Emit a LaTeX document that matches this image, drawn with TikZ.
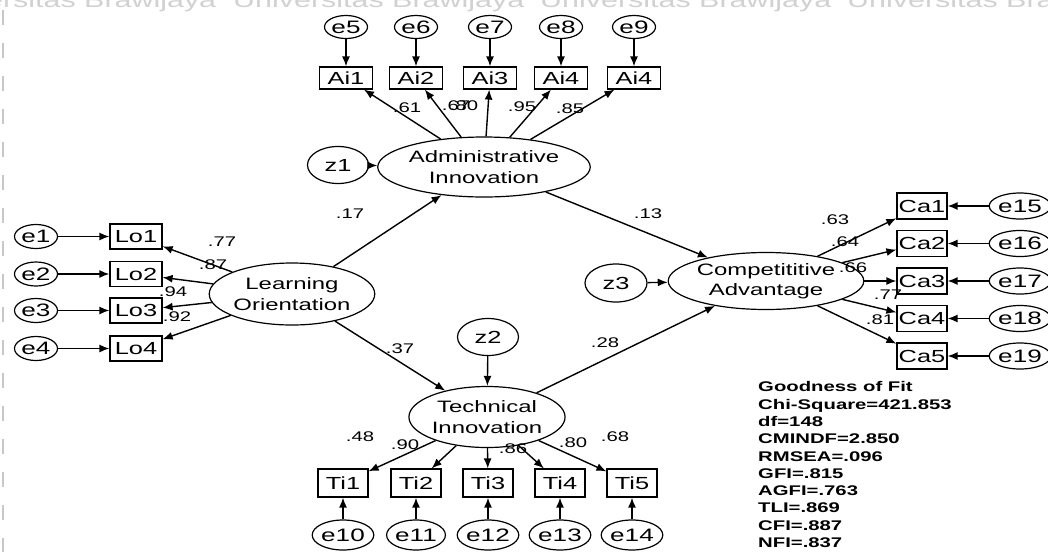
\documentclass[tikz,border=0pt]{standalone}
\usepackage{fontspec}
\setmainfont[FakeStretch=1.45]{Liberation Sans}
\usetikzlibrary{arrows.meta,shapes.geometric}

\begin{document}
\begin{tikzpicture}[x=1pt,y=-1pt,
  lat/.style={draw,ellipse,line width=1.2pt,inner sep=0pt,align=center,
    font=\fontsize{16.5}{20.5}\selectfont},
  err/.style={draw,ellipse,line width=1.2pt,inner sep=0pt,
    font=\fontsize{18}{18}\selectfont},
  dist/.style={draw,ellipse,line width=1.2pt,inner sep=0pt,
    minimum width=61pt,minimum height=37pt,font=\fontsize{17.5}{17.5}\selectfont},
  obs/.style={draw,rectangle,line width=1.2pt,inner sep=0pt,
    font=\fontsize{17.5}{17.5}\selectfont},
  arr/.style={-{Latex[length=10pt,width=8pt]},line width=1.4pt},
  coef/.style={inner sep=0pt,font=\fontsize{14}{14}\selectfont},
  mark text/.style={inner sep=0pt,anchor=base west,text=black!18,
    font=\fontsize{21}{21}\selectfont}]

\useasboundingbox (0,0) rectangle (1048,552);
\clip (0,0) rectangle (1048,552);
\fill[white] (0,0) rectangle (1048,552);

% faint header line and left margin rule
\foreach \wx [count=\wi] in {-75,233,540,847}
  \node[mark text] (mark\wi) at (\wx,7) {Universitas Brawijaya};
\draw[black!22,line width=2.5pt,dash pattern=on 15pt off 18pt] (3,10) -- (3,552);

% latent variables
\node[lat,minimum width=141pt,minimum height=62pt] (LO) at (292,294) {Learning\\Orientation};
\node[lat,minimum width=152pt,minimum height=60pt] (AI) at (484,167) {Administrative\\Innovation};
\node[lat,minimum width=145pt,minimum height=61pt] (TI) at (487,417) {Technical\\Innovation};
\node[lat,minimum width=163pt,minimum height=57pt] (CA) at (766,281) {Competititive\\Advantage};

% disturbances
\node[dist] (z1) at (338,165) {z1};
\node[dist] (z2) at (488,337) {z2};
\node[dist,minimum width=62pt,minimum height=38pt] (z3) at (616,283) {z3};

% Learning Orientation indicators
\foreach \yy [count=\i] in {236.5,274,310.5,348.5} {
  \node[obs,minimum width=52pt,minimum height=25pt] (Lo\i) at (136,\yy) {Lo\i};
  \node[err,minimum width=43pt,minimum height=24pt] (e\i) at (36,\yy) {e\i};
  \draw[arr] (e\i) -- (Lo\i);
  \draw[arr] (LO) -- (Lo\i);
}

% Administrative Innovation indicators
\foreach \xx/\lab [count=\i, evaluate=\i as \ei using int(\i+4)] in
    {346/Ai1,416/Ai2,490/Ai3,561/Ai4,634/Ai4} {
  \node[obs,minimum width=53pt,minimum height=22pt] (Ai\i) at (\xx,78) {\lab};
  \node[err,minimum width=43pt,minimum height=23pt] (e\ei) at (\xx,27) {e\ei};
  \draw[arr] (e\ei) -- (Ai\i);
  \draw[arr] (AI) -- (Ai\i);
}

% Technical Innovation indicators
\foreach \xx [count=\i, evaluate=\i as \ei using int(\i+9)] in {343,416,488,560,632} {
  \node[obs,minimum width=50pt,minimum height=28pt] (Ti\i) at (\xx,483) {Ti\i};
  \node[err,minimum width=52pt,minimum height=30pt] (e\ei) at (\xx,535) {e\ei};
  \draw[arr] (e\ei) -- (Ti\i);
  \draw[arr] (TI) -- (Ti\i);
}

% Competitive Advantage indicators
\foreach \yy [count=\i, evaluate=\i as \ei using int(\i+14)] in {206,243.5,281,318.5,356} {
  \node[obs,minimum width=50pt,minimum height=26pt] (Ca\i) at (922,\yy) {Ca\i};
  \node[err,minimum width=47pt,minimum height=26pt] (e\ei) at (1020,\yy) {e\ei};
  \draw[arr] (e\ei) -- (Ca\i);
  \draw[arr] (CA) -- (Ca\i);
}

% structural paths
\draw[arr] (LO) -- (AI);
\draw[arr] (LO) -- (TI);
\draw[arr] (AI) -- (CA);
\draw[arr] (TI) -- (CA);
\draw[arr] (z1) -- (AI);
\draw[arr] (z2) -- (TI);
\draw[arr] (z3) -- (CA);

% path coefficients
\node[coef] (c17) at (350,214) {.17};
\node[coef] (c37) at (400,349) {.37};
\node[coef] (c13) at (648,214) {.13};
\node[coef] (c28) at (605,343) {.28};

% standardized loadings
\node[coef] (l1) at (222,242) {.77};
\node[coef] (l2) at (213,265) {.87};
\node[coef] (l3) at (173,292) {.94};
\node[coef] (l4) at (177,317) {.92};

\node[coef] (l5) at (407,108) {.61};
\node[coef] (l6) at (456,106) {.67};
\node[coef] (l7) at (464,106) {.80};
\node[coef] (l8) at (522,107) {.95};
\node[coef] (l9) at (570,109) {.85};

\node[coef] (l10) at (360,437) {.48};
\node[coef] (l11) at (405,445) {.90};
\node[coef] (l12) at (513,449) {.86};
\node[coef] (l13) at (573,443) {.80};
\node[coef] (l14) at (615,437) {.68};

\node[coef] (l15) at (835,220) {.63};
\node[coef] (l16) at (845,242) {.64};
\node[coef] (l17) at (853,268) {.66};
\node[coef] (l18) at (888,295) {.77};
\node[coef] (l19) at (880,320) {.81};

% fit statistics
\node[anchor=north west,inner sep=0pt,align=left,
      font=\fontsize{14}{17.3}\selectfont\bfseries] (fit) at (758,381.5)
  {Goodness of Fit\\Chi-Square=421.853\\df=148\\CMINDF=2.850\\RMSEA=.096\\
   GFI=.815\\AGFI=.763\\TLI=.869\\CFI=.887\\NFI=.837};
\end{tikzpicture}
\end{document}
